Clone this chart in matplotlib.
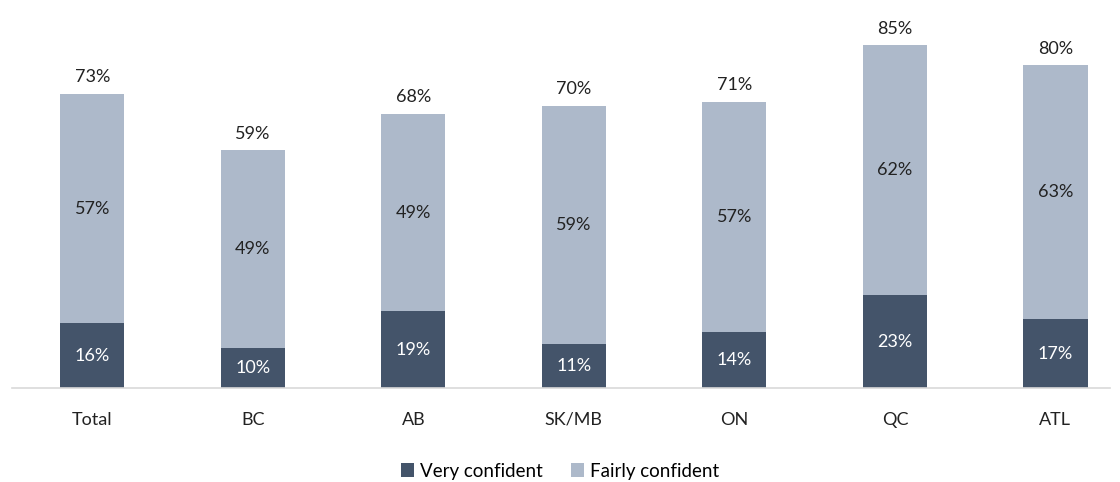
import matplotlib
matplotlib.use("Agg")
import matplotlib.pyplot as plt
import numpy as np

categories = ["Total", "BC", "AB", "SK/MB", "ON", "QC", "ATL"]
very_confident = [16, 10, 19, 11, 14, 23, 17]
fairly_confident = [57, 49, 49, 59, 57, 62, 63]

dark = "#44546A"
light = "#ADB9CA"

plt.rcParams["font.family"] = ["Lato", "DejaVu Sans"]

fig = plt.figure(figsize=(11.2, 4.82), dpi=100)
ax = fig.add_axes([12 / 1120, 94 / 482, 1098 / 1120, 363 / 482])

x = np.arange(len(categories))
vc = np.array(very_confident)
fc = np.array(fairly_confident)
totals = vc + fc

b1 = ax.bar(x, vc, width=0.4, color=dark, label="Very confident")
b2 = ax.bar(x, fc, width=0.4, bottom=vc, color=light, label="Fairly confident")

for i in range(len(x)):
    ax.text(x[i], vc[i] / 2, f"{vc[i]}%", ha="center", va="center",
            color="white", fontsize=13)
    ax.text(x[i], vc[i] + fc[i] / 2, f"{fc[i]}%", ha="center", va="center",
            color="#222222", fontsize=13)
    ax.annotate(f"{totals[i]}%", (x[i], totals[i]), xytext=(0, 6),
                textcoords="offset points", ha="center", va="bottom",
                color="#222222", fontsize=13)

ax.set_xlim(-0.5, 6.34)
ax.set_ylim(0, 90)
ax.set_xticks(x)
ax.set_xticklabels(categories, fontsize=13, color="#222222")
ax.tick_params(axis="x", length=0, pad=17)
ax.set_yticks([])
for s in ["top", "right", "left"]:
    ax.spines[s].set_visible(False)
ax.spines["bottom"].set_color("#D9D9D9")
ax.spines["bottom"].set_linewidth(1.2)

fig.legend(handles=[b1, b2], loc="lower center", bbox_to_anchor=(0.5, -0.03),
           ncol=2, frameon=False, fontsize=13.5, handlelength=0.7,
           handleheight=0.7, handletextpad=0.3, columnspacing=1.5)

fig.savefig("out.png", dpi=100)
